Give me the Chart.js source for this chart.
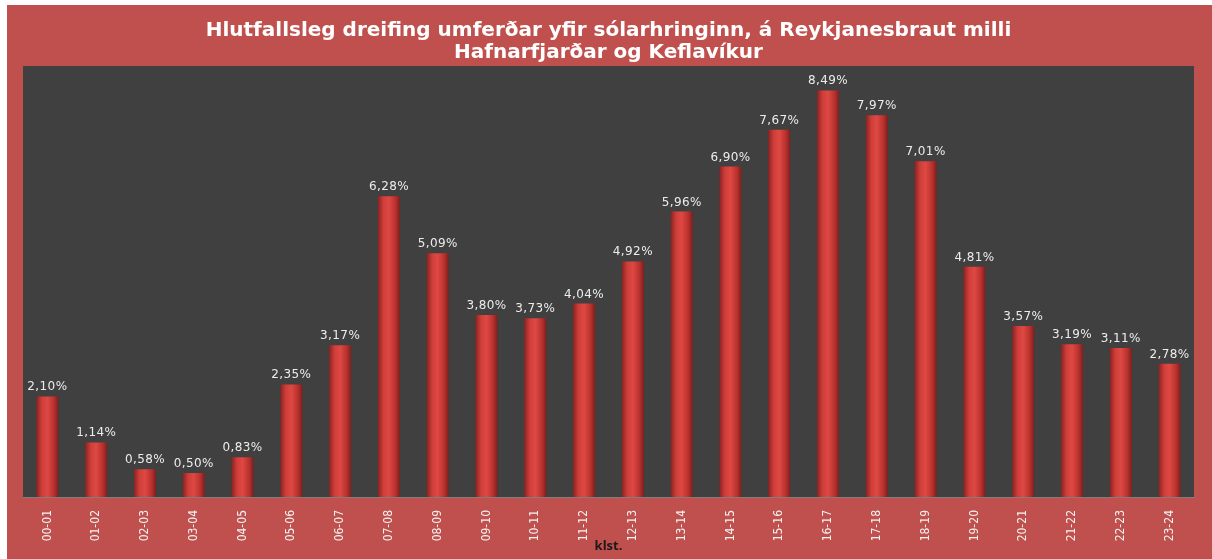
<!DOCTYPE html>
<html lang="is">
<head>
<meta charset="UTF-8">
<title>Hlutfallsleg dreifing umferðar</title>
<script src="https://cdn.jsdelivr.net/npm/chart.js@4.4.0/dist/chart.umd.min.js"></script>
<style>
	body {
		margin: 0;
		background: #ffffff;
	}
	.wrapper {
		position: absolute;
		left: 7px;
		top: 5px;
		width: 1205px;
		height: 554px;
		background: #c0504d;
	}
</style>
</head>
<body>
<div class="wrapper">
	<canvas id="myChart" width="1205" height="554"></canvas>
</div>
<script>
// hours of the day and share of daily traffic (%)
var hours = ['00-01', '01-02', '02-03', '03-04', '04-05', '05-06', '06-07', '07-08',
	'08-09', '09-10', '10-11', '11-12', '12-13', '13-14', '14-15', '15-16',
	'16-17', '17-18', '18-19', '19-20', '20-21', '21-22', '22-23', '23-24'];
var shares = [2.10, 1.14, 0.58, 0.50, 0.83, 2.35, 3.17, 6.28,
	5.09, 3.80, 3.73, 4.04, 4.92, 5.96, 6.90, 7.67,
	8.49, 7.97, 7.01, 4.81, 3.57, 3.19, 3.11, 2.78];
var titleLines = ['Hlutfallsleg dreifing umferðar yfir sólarhringinn, á Reykjanesbraut milli',
	'Hafnarfjarðar og Keflavíkur'];
var axisTitle = 'klst.';

// dark plot background
var plotBg = {
	id: 'plotBg',
	beforeDraw: function (chart) {
		var a = chart.chartArea, c = chart.ctx;
		c.save();
		c.fillStyle = '#404040';
		c.fillRect(a.left, a.top, a.right - a.left, a.bottom - a.top);
		c.restore();
	}
};

// value labels above the bars
var valueLabels = {
	id: 'valueLabels',
	afterDatasetsDraw: function (chart) {
		var c = chart.ctx;
		c.save();
		c.fillStyle = '#ececec';
		c.font = '12px "DejaVu Sans"';
		c.letterSpacing = '0.4px';
		c.textAlign = 'center';
		c.textBaseline = 'alphabetic';
		chart.getDatasetMeta(0).data.forEach(function (bar, i) {
			var txt = shares[i].toFixed(2).replace('.', ',') + '%';
			c.fillText(txt, bar.x, bar.y - 6);
		});
		c.restore();
	}
};

// cylinder-like shading across each bar
function barGradient(context) {
	var chart = context.chart;
	var x = chart.scales.x;
	if (!x || context.dataIndex === undefined) return '#d23f3b';
	var cx = x.getPixelForValue(context.dataIndex);
	var half = (x.getPixelForValue(1) - x.getPixelForValue(0)) * 0.45 / 2;
	if (!isFinite(cx) || !isFinite(half) || half <= 0) return '#d23f3b';
	var g = chart.ctx.createLinearGradient(cx - half, 0, cx + half, 0);
	g.addColorStop(0, '#8a2321');
	g.addColorStop(0.25, '#cf3e3a');
	g.addColorStop(0.5, '#df4843');
	g.addColorStop(0.8, '#b8312e');
	g.addColorStop(1, '#7e1f1d');
	return g;
}

var ctx = document.getElementById('myChart').getContext('2d');
var chart = new Chart(ctx, {
	type: 'bar',
	data: {
		labels: hours,
		datasets: [{
			data: shares,
			backgroundColor: barGradient,
			barPercentage: 0.9,
			categoryPercentage: 0.5
		}]
	},
	options: {
		responsive: false,
		animation: false,
		layout: { padding: { left: 16, right: 18, top: 0, bottom: 0 } },
		plugins: {
			legend: { display: false },
			tooltip: { enabled: false },
			title: {
				display: true,
				text: titleLines,
				color: '#ffffff',
				font: { family: '"DejaVu Sans"', size: 20, weight: 'bold', lineHeight: 1.1 },
				padding: { top: 15, bottom: 2 }
			}
		},
		scales: {
			x: {
				afterFit: function (scale) { scale.height = 62; },
				grid: { display: false, drawTicks: false },
				border: { color: '#7f7f7f', width: 1 },
				ticks: {
					color: '#f2f2f2',
					font: { family: '"DejaVu Sans Condensed", "DejaVu Sans"', size: 12 },
					minRotation: 90,
					maxRotation: 90,
					padding: 13
				},
				title: {
					display: true,
					text: axisTitle,
					color: '#1a1a1a',
					font: { family: '"Open Sans"', size: 13, weight: 'bold' },
					padding: { top: 0, bottom: 5 }
				}
			},
			y: {
				display: false,
				min: 0,
				max: 9
			}
		}
	},
	plugins: [plotBg, valueLabels]
});
</script>
</body>
</html>
